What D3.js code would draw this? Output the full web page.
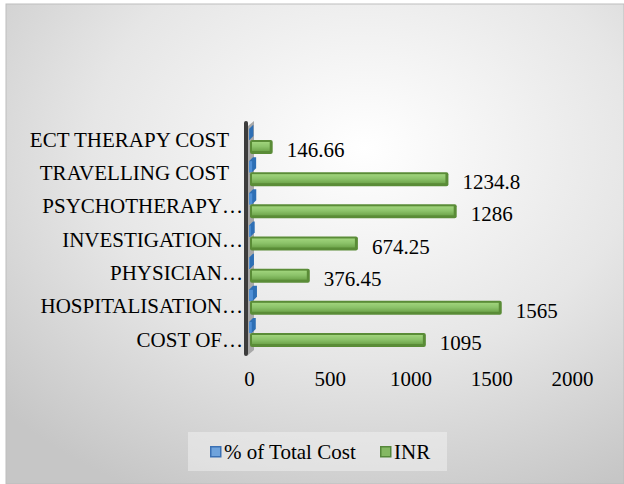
<!DOCTYPE html>
<html>
<head>
<meta charset="utf-8">
<script src="https://cdn.jsdelivr.net/npm/d3@7"></script>
<style>
  body { margin: 0; background: #fff; }
  text { font-family: "Liberation Serif", "Times New Roman", serif; fill: #000; }
</style>
</head>
<body>
<div id="chart"></div>
<script>
// data (bottom to top, as in the chart)
const categories = ['COST OF\u2026', 'HOSPITALISATION\u2026', 'PHYSICIAN\u2026', 'INVESTIGATION\u2026',
    'PSYCHOTHERAPY\u2026', 'TRAVELLING COST', 'ECT THERAPY COST'];
const inrValues = [1095, 1565, 376.45, 674.25, 1286, 1234.8, 146.66];
const pctValues = [17.2, 24.5, 5.9, 10.6, 20.2, 19.4, 2.3];
const xTicks = [0, 500, 1000, 1500, 2000];
const seriesNames = ['% of Total Cost', 'INR'];

const W = 624, H = 484;
const serif = '"Liberation Serif", "Times New Roman", serif';
const svg = d3.select('#chart').append('svg')
    .attr('width', W)
    .attr('height', H);

const defs = svg.append('defs');

// chart area background
const bg = defs.append('radialGradient')
    .attr('id', 'bg')
    .attr('cx', '0.58').attr('cy', '0.3').attr('r', '0.8');
bg.append('stop').attr('offset', '0').attr('stop-color', '#ffffff');
bg.append('stop').attr('offset', '0.55').attr('stop-color', '#e6e6e6');
bg.append('stop').attr('offset', '1').attr('stop-color', '#c6c6c6');

const greenGrad = defs.append('linearGradient')
    .attr('id', 'green').attr('x1', 0).attr('y1', 0).attr('x2', 0).attr('y2', 1);
greenGrad.append('stop').attr('offset', '0').attr('stop-color', '#a0d47c');
greenGrad.append('stop').attr('offset', '0.5').attr('stop-color', '#8cc36a');
greenGrad.append('stop').attr('offset', '1').attr('stop-color', '#6fa64c');

svg.append('rect')
    .attr('x', 6).attr('y', 4)
    .attr('width', W - 6).attr('height', H - 4)
    .attr('fill', 'url(#bg)')
    .attr('stroke', '#bdbdbd');

// scales
let xScale = d3.scaleLinear()
    .domain([0, 2000])
    .range([249, 572]);

let yBar = d3.scalePoint()
    .domain(categories)
    .range([340, 147]);

let yLabel = d3.scalePoint()
    .domain(categories)
    .range([339.5, 139.5]);

// wall (3d axis)
svg.append('polygon')
    .attr('points', [[248, 126], [254, 121], [254, 350], [248, 355]].join(' '))
    .attr('fill', '#a8a8a8');
svg.append('rect')
    .attr('x', 244).attr('y', 121)
    .attr('width', 4).attr('height', 235)
    .attr('rx', 2)
    .attr('fill', '#3c3c3c');

// blue bars (% of total cost)
const blue = svg.selectAll('.blue')
    .data(categories)
    .enter().append('g')
    .attr('class', 'blue');
blue.append('polygon')
    .attr('points', (d, i) => {
        const x0 = xScale(0), x1 = xScale(pctValues[i]), c = yBar(d);
        return [[x0, c - 7], [x1, c - 7], [x1 + 4, c - 11], [x1 + 4, c - 22], [x0 + 4, c - 22], [x0, c - 18]].join(' ');
    })
    .attr('fill', '#2e6fb5');
blue.append('rect')
    .attr('x', xScale(0))
    .attr('y', d => yBar(d) - 18)
    .attr('width', (d, i) => xScale(pctValues[i]) - xScale(0))
    .attr('height', 11)
    .attr('fill', '#4f8fd6');

// green bars (INR)
const bars = svg.selectAll('.bar')
    .data(categories)
    .enter().append('g')
    .attr('class', 'bar');
bars.append('rect')
    .attr('x', xScale(0) + 1)
    .attr('y', d => yBar(d) - 7)
    .attr('width', (d, i) => xScale(inrValues[i]) - xScale(0) - 1)
    .attr('height', 14)
    .attr('rx', 2)
    .attr('fill', '#5a8c37');
bars.append('rect')
    .attr('x', xScale(0) + 3)
    .attr('y', d => yBar(d) - 5)
    .attr('width', (d, i) => xScale(inrValues[i]) - xScale(0) - 6)
    .attr('height', 9)
    .attr('fill', 'url(#green)');

// value labels
svg.selectAll('.value')
    .data(categories)
    .enter().append('text')
    .attr('class', 'value')
    .attr('x', (d, i) => xScale(inrValues[i]) + 14)
    .attr('y', d => yBar(d) + 3)
    .attr('dominant-baseline', 'central')
    .attr('font-size', 21)
    .text((d, i) => inrValues[i]);

// category labels
svg.selectAll('.cat')
    .data(categories)
    .enter().append('text')
    .attr('class', 'cat')
    .attr('x', 243)
    .attr('dx', d => d.endsWith('\u2026') ? 0 : -14)
    .attr('y', d => yLabel(d))
    .attr('dominant-baseline', 'central')
    .attr('text-anchor', 'end')
    .attr('font-size', 21)
    .text(d => d);

// x axis
let xAxis = d3.axisBottom()
    .scale(xScale)
    .tickValues(xTicks)
    .tickFormat(d3.format('d'))
    .tickSize(0)
    .tickPadding(0);

let xAxisGroup = svg.append('g')
    .attr('class', 'x-axis')
    .attr('transform', 'translate(0,371)')
    .call(xAxis)
    .attr('font-size', 21)
    .attr('font-family', serif);
xAxisGroup.select('.domain').remove();
xAxisGroup.selectAll('text')
    .attr('fill', '#000');

// legend
svg.append('rect')
    .attr('x', 188).attr('y', 432)
    .attr('width', 259).attr('height', 39)
    .attr('fill', '#f6f6f6')
    .attr('opacity', 0.45);

const legendX = [210, 380];
const legendFill = ['#6fa3dc', '#84b862'];
const legendStroke = ['#3a70b4', '#55873a'];
const legend = svg.selectAll('.legend')
    .data(seriesNames)
    .enter().append('g')
    .attr('class', 'legend')
    .attr('transform', (d, i) => 'translate(' + legendX[i] + ',446)');
legend.append('rect')
    .attr('x', 0.75).attr('y', 0.75)
    .attr('width', 10).attr('height', 10)
    .attr('fill', (d, i) => legendFill[i])
    .attr('stroke', (d, i) => legendStroke[i])
    .attr('stroke-width', 1.5);
legend.append('text')
    .attr('x', 14)
    .attr('y', 6)
    .attr('dominant-baseline', 'central')
    .attr('font-size', 21)
    .text(d => d);
</script>
</body>
</html>
